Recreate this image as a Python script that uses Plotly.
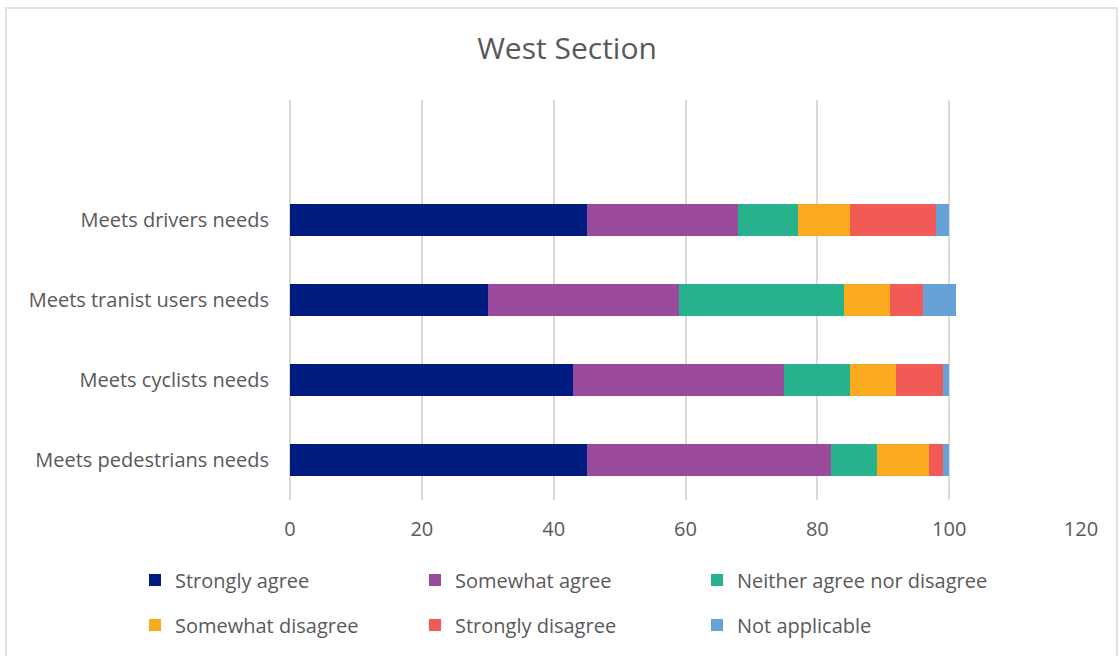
import plotly.graph_objects as go

# Survey responses (percent of respondents) by statement
categories = [
    "Meets pedestrians needs",
    "Meets cyclists needs",
    "Meets tranist users needs",
    "Meets drivers needs",
]
strongly_agree = [45, 43, 30, 45]
somewhat_agree = [37, 32, 29, 23]
neither = [7, 10, 25, 9]
somewhat_disagree = [8, 7, 7, 8]
strongly_disagree = [2, 7, 5, 13]
not_applicable = [1, 1, 5, 2]

series_names = ["Strongly agree", "Somewhat agree", "Neither agree nor disagree",
                "Somewhat disagree", "Strongly disagree", "Not applicable"]
series_values = [strongly_agree, somewhat_agree, neither,
                 somewhat_disagree, strongly_disagree, not_applicable]
series_colors = ["#001C80", "#994A9A", "#26B28C", "#F9AA1E", "#F25A55", "#66A1D7"]

FONT = "Open Sans"
GREY = "#595959"
FS = 20

W, H = 1120, 656
ML, MR, MT, MB = 290, 39, 100, 156
PW, PH = W - ML - MR, H - MT - MB

def px_x(p):
    return (p - ML) / PW

def px_y(p):
    return (H - MB - p) / PH

# legend grid: three columns, two rows below the plot
legend_cols = [135, 415, 697]
legend_rows = [580, 625]

fig = go.Figure()
legends = {}
for i, (name, vals, color) in enumerate(zip(series_names, series_values, series_colors)):
    key = "legend" if i == 0 else f"legend{i + 1}"
    fig.add_trace(go.Bar(
        y=categories, x=vals, name=name, orientation="h",
        marker=dict(color=color, line=dict(width=0)),
        width=0.4, legend=key, showlegend=True,
    ))
    legends[key] = dict(
        x=px_x(legend_cols[i % 3]), y=px_y(legend_rows[i // 3]),
        xanchor="left", yanchor="middle", orientation="h",
        font=dict(family=FONT, size=FS, color=GREY),
        bgcolor="rgba(0,0,0,0)", itemclick=False, itemdoubleclick=False,
    )

fig.update_layout(
    width=W, height=H,
    showlegend=True,
    margin=dict(l=ML, r=MR, t=MT, b=MB),
    paper_bgcolor="white", plot_bgcolor="white",
    barmode="stack", bargap=0.6,
    title=dict(text="West Section", x=567 / W, xanchor="center",
               y=1 - 48 / H, yanchor="middle",
               font=dict(family=FONT, size=30, color=GREY)),
    font=dict(family=FONT, size=FS, color=GREY),
    xaxis=dict(range=[0, 120], dtick=20, tick0=0,
               showgrid=True, gridcolor="#D9D9D9", gridwidth=1.5,
               zeroline=True, zerolinecolor="#D9D9D9", zerolinewidth=1.5,
               showline=False, ticks="", ticklabelstandoff=15,
               tickfont=dict(family=FONT, size=FS, color=GREY)),
    yaxis=dict(range=[-0.5, 4.5], showgrid=False, showline=False,
               ticks="", ticklabelstandoff=20,
               tickfont=dict(family=FONT, size=FS, color=GREY)),
    shapes=[dict(type="rect", xref="paper", yref="paper",
                 x0=px_x(6), x1=px_x(1117), y0=px_y(700), y1=px_y(8),
                 line=dict(color="#D9D9D9", width=1.5), fillcolor="rgba(0,0,0,0)")],
    **legends,
)

fig.write_html("out.html")
